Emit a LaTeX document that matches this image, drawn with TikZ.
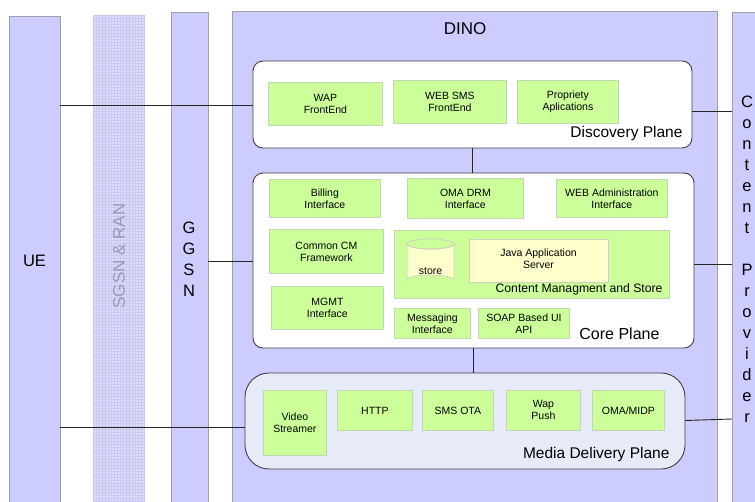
\documentclass[tikz,border=0pt]{standalone}
\usepackage{fontspec}
\setmainfont{Liberation Sans}
\usetikzlibrary{patterns}

\definecolor{colfill}{HTML}{CCCCFF}
\definecolor{colline}{HTML}{A0A0A8}
\definecolor{radiofill}{HTML}{DCDCF8}
\definecolor{radiogrid}{HTML}{C8C8F2}
\definecolor{radiotext}{HTML}{9A9AAE}
\definecolor{compfill}{HTML}{CCFF99}
\definecolor{compline}{HTML}{C2D6B2}
\definecolor{javafill}{HTML}{FFFFCC}
\definecolor{javaline}{HTML}{D0D0C0}
\definecolor{planeline}{HTML}{404040}
\definecolor{mediafill}{HTML}{E6EBF7}

\tikzset{
  column/.style={draw=colline, fill=colfill, line width=0.8pt},
  plane/.style={draw=planeline, line width=0.9pt, rounded corners=10pt},
  comp/.style={draw=compline, fill=compfill, line width=0.8pt, inner sep=0pt,
    anchor=north west, align=center, font=\fontsize{10.5}{12}\selectfont},
  planelabel/.style={anchor=east, font=\fontsize{15.5}{18}\selectfont},
  bigtext/.style={font=\fontsize{16.5}{21}\selectfont, align=center},
  link/.style={draw=black!85, line width=0.9pt},
}

% a component box given by its top-left corner and its size
\newcommand{\compbox}[6][]{%
  \node[comp, #1, minimum width=#4, minimum height=#5] (#2) at #3 {#6};}

\begin{document}
\begin{tikzpicture}[x=1pt, y=-1pt]
\useasboundingbox (0,0) rectangle (755,501);
\fill[white] (0,0) rectangle (755,501);

% vertical system columns
\path[column] (9,16) rectangle (60,510);
\node[bigtext] (ue) at (34.5,261) {UE};

\fill[radiofill] (93,15) rectangle (145,510);
\fill[pattern=grid, pattern color=radiogrid] (93,15) rectangle (145,510);
\node[rotate=90, text=radiotext, font=\fontsize{17}{20}\selectfont] (sgsn) at (119,256) {SGSN \& RAN};

\path[column] (171,12) rectangle (208,510);
\node[bigtext] (ggsn) at (189,259) {G\\G\\S\\N};

\path[column] (232,11) rectangle (717,510);
\node[font=\fontsize{17}{20}\selectfont] (dino) at (465,29) {DINO};

\path[column] (732,12) rectangle (770,510);
\node[bigtext] (cp) at (747,259) {C\\o\\n\\t\\e\\n\\t\\[21pt]P\\r\\o\\v\\i\\d\\e\\r};

% Discovery plane
\draw[plane, fill=white] (253,61) rectangle (692,148);
\coordinate (discW) at (253,105.5);
\coordinate (discE) at (692,111);
\coordinate (discS) at (472.5,148);
\compbox{wap}{(268,82)}{114}{43}{WAP\\FrontEnd}
\compbox{websms}{(393,80)}{113}{43}{WEB SMS\\FrontEnd}
\compbox{propr}{(517,80)}{101}{43}{Propriety\\Aplications}
\node[planelabel] (disclabel) at (686,133) {Discovery Plane};

% Core plane
\draw[plane, fill=white] (253,173) rectangle (694,348);
\coordinate (coreN) at (472.5,173);
\coordinate (coreW) at (253,261);
\coordinate (coreE) at (694,264);
\coordinate (coreS) at (473,348);
\compbox{billing}{(269,179)}{111}{38}{Billing\\Interface}
\compbox{omadrm}{(407,178)}{116}{40}{OMA DRM\\Interface}
\compbox{webadmin}{(556,179)}{111}{38}{WEB Administration\\Interface}
\compbox{commoncm}{(269,229)}{114}{44}{Common CM\\Framework}
\compbox{mgmt}{(271,286)}{112}{43}{MGMT\\Interface}
\compbox{messaging}{(394,308)}{76}{30}{Messaging\\Interface}
\compbox{soap}{(478,308)}{91}{30}{SOAP Based UI\\API}
\node[planelabel, font=\fontsize{16}{18}\selectfont] (corelabel) at (663,334) {Core Plane};

% Content management and store
\node[comp, minimum width=275, minimum height=68] (cms) at (394,230) {};
\node[anchor=east, font=\fontsize{12.2}{14}\selectfont] (cmslabel) at (666,289) {Content Managment and Store};
\begin{scope}[draw=javaline, fill=javafill, line width=0.8pt]
  \filldraw (407,244) -- (407,280) arc[start angle=180, end angle=360, x radius=23.5, y radius=5]
    -- (454,244) arc[start angle=0, end angle=180, x radius=23.5, y radius=5] -- cycle;
  \draw (430.5,244) ellipse[x radius=23.5, y radius=5];
\end{scope}
\node[font=\fontsize{10.5}{12}\selectfont] (store) at (430.5,271) {store};
\node[comp, draw=javaline, fill=javafill, minimum width=139, minimum height=43] (java) at (469,239) {};
\node[align=center, font=\fontsize{10.5}{12}\selectfont] (javatext) at (538.5,259) {Java Application\\Server};

% Media delivery plane
\draw[plane, rounded corners=24pt, fill=mediafill] (245,373) rectangle (685,469);
\coordinate (mediaN) at (473,373);
\coordinate (mediaW) at (245,427);
\coordinate (mediaE) at (685,420.5);
\compbox{video}{(263,390)}{63}{65}{Video\\Streamer}
\compbox{http}{(337,390)}{75}{40}{HTTP}
\compbox{smsota}{(422,390)}{71}{40}{SMS OTA}
\compbox{wappush}{(506,390)}{74}{40}{Wap\\Push}
\compbox{omamidp}{(592,390)}{72}{40}{OMA/MIDP}
\node[planelabel] (medialabel) at (673,454) {Media Delivery Plane};

% connectors
\coordinate (ueE1) at (60,105.5);
\coordinate (ueE2) at (60,427);
\coordinate (ggsnE) at (208,261);
\coordinate (cpW1) at (732,111);
\coordinate (cpW2) at (732,264);
\coordinate (cpW3) at (732,419);
\draw[link] (ueE1) -- (discW);
\draw[link] (ueE2) -- (mediaW);
\draw[link] (ggsnE) -- (coreW);
\draw[link] (discE) -- (cpW1);
\draw[link] (coreE) -- (cpW2);
\draw[link] (mediaE) -- (cpW3);
\draw[link] (discS) -- (coreN);
\draw[link] (coreS) -- (mediaN);
\end{tikzpicture}
\end{document}
